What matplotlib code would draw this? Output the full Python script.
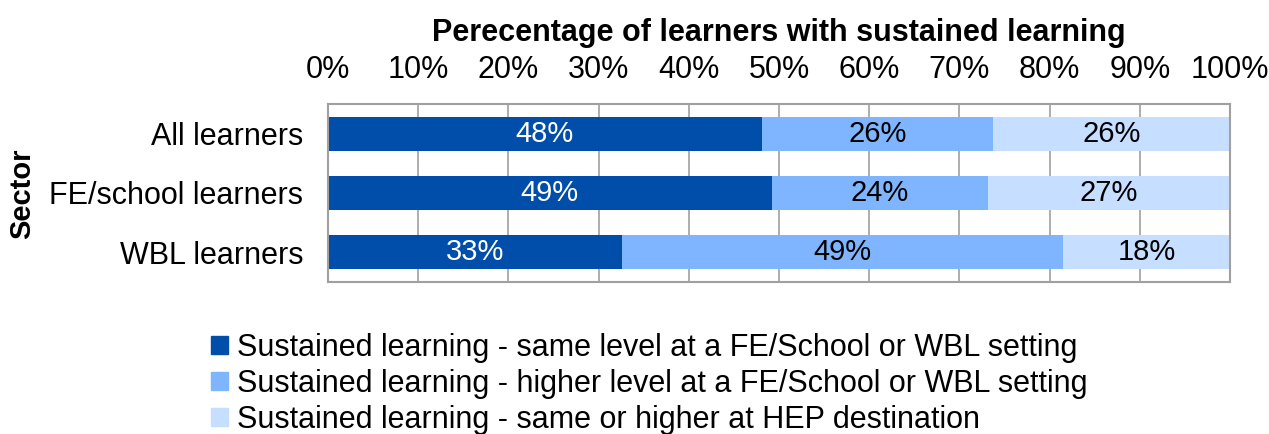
import matplotlib.pyplot as plt
from matplotlib.patches import Patch

plt.rcParams['font.family'] = ['Liberation Sans', 'DejaVu Sans']

# data
sectors = ["All learners", "FE/school learners", "WBL learners"]
same_level = [48.1, 49.2, 32.6]
higher_level = [25.6, 24.0, 48.9]
hep = [26.3, 26.8, 18.5]
series_names = [
    "Sustained learning - same level at a FE/School or WBL setting",
    "Sustained learning - higher level at a FE/School or WBL setting",
    "Sustained learning - same or higher at HEP destination",
]
colors = ["#004DAA", "#7FB5FF", "#C6DEFF"]
text_colors = ["white", "black", "black"]

fig = plt.figure(figsize=(12.69, 4.34), dpi=100)
ax = fig.add_axes([328 / 1269, 1 - 282 / 434, 902 / 1269, 178 / 434])

y = list(range(len(sectors)))
left = [0] * len(sectors)
for vals, col, tcol in zip([same_level, higher_level, hep], colors, text_colors):
    bars = ax.barh(y, vals, left=left, height=0.57, color=col, zorder=2)
    for b, v in zip(bars, vals):
        ax.text(b.get_x() + b.get_width() / 2, b.get_y() + b.get_height() / 2,
                f"{round(v)}%", ha="center", va="center", color=tcol, fontsize=21)
    left = [l + v for l, v in zip(left, vals)]

ax.set_xlim(0, 100)
ax.set_ylim(len(sectors) - 0.5, -0.5)
ax.set_yticks(y)
ax.set_yticklabels(sectors, fontsize=22)
ax.set_xticks(range(0, 101, 10))
ax.set_xticklabels([f"{t}%" for t in range(0, 101, 10)], fontsize=22)
ax.xaxis.tick_top()
ax.xaxis.set_label_position("top")
ax.tick_params(length=0)
ax.tick_params(axis="y", pad=18)
ax.tick_params(axis="x", pad=14)
ax.grid(axis="x", color="#A0A0A0", linewidth=1.2, zorder=0)
for s in ax.spines.values():
    s.set_color("#A0A0A0")
    s.set_linewidth(1.5)

ax.set_xlabel("Perecentage of learners with sustained learning", fontsize=22,
              fontweight="bold", labelpad=10)
fig.text(22 / 1269, 1 - 194 / 434, "Sector", rotation=90, fontsize=21,
         fontweight="bold", ha="center", va="center")

handles = [Patch(color=c) for c in colors]
fig.legend(handles, series_names, loc="upper left",
           bbox_to_anchor=(211 / 1269, 1 - 333 / 434), frameon=False,
           fontsize=22, handlelength=0.55, handleheight=0.55, handletextpad=0.3,
           labelspacing=0.19, borderaxespad=0, borderpad=0)

fig.savefig("out.png", dpi=100)
